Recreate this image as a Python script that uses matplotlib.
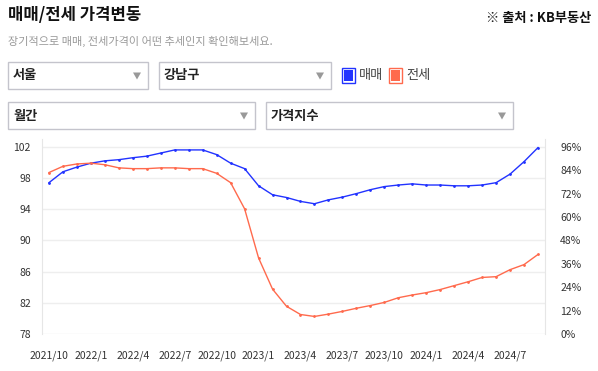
import matplotlib
matplotlib.use('Agg')
import matplotlib.pyplot as plt
from matplotlib.patches import Rectangle, Polygon

plt.rcParams['font.family'] = ['Noto Sans CJK KR', 'DejaVu Sans']

# monthly data, 2021/10 .. 2024/9
months = ['2021/10', '2021/11', '2021/12',
          '2022/1', '2022/2', '2022/3', '2022/4', '2022/5', '2022/6',
          '2022/7', '2022/8', '2022/9', '2022/10', '2022/11', '2022/12',
          '2023/1', '2023/2', '2023/3', '2023/4', '2023/5', '2023/6',
          '2023/7', '2023/8', '2023/9', '2023/10', '2023/11', '2023/12',
          '2024/1', '2024/2', '2024/3', '2024/4', '2024/5', '2024/6',
          '2024/7', '2024/8', '2024/9']
sale = [97.4, 98.8, 99.4,
        99.9, 100.2, 100.35, 100.6, 100.8, 101.2,
        101.6, 101.6, 101.6, 101.0, 99.9, 99.2,
        97.0, 95.85, 95.5, 95.0, 94.7, 95.2,
        95.55, 96.0, 96.5, 96.9, 97.1, 97.25,
        97.1, 97.1, 97.0, 97.0, 97.1, 97.4,
        98.5, 100.1, 101.9]
jeonse = [98.7, 99.5, 99.8,
          99.9, 99.7, 99.3, 99.2, 99.2, 99.3,
          99.3, 99.2, 99.2, 98.6, 97.4, 94.05,
          87.75, 83.75, 81.55, 80.5, 80.25, 80.55,
          80.9, 81.3, 81.65, 82.05, 82.65, 83.0,
          83.3, 83.7, 84.2, 84.7, 85.25, 85.35,
          86.25, 86.9, 88.2]
left_ticks = [78, 82, 86, 90, 94, 98, 102]
right_ticks = [0, 12, 24, 36, 48, 60, 72, 84, 96]

BLUE = '#2233ff'
RED = '#ff6a4d'
W, H = 598, 371

fig = plt.figure(figsize=(W / 100, H / 100), dpi=100)


def fx(x):
    return x / W


def fy(y):
    return 1 - y / H


# header
fig.text(fx(8), fy(15), '매매/전세 가격변동', fontsize=12, fontweight='bold',
         color='#111111', va='center', ha='left')
fig.text(fx(591), fy(18), '※ 출처 : KB부동산', fontsize=9.5, fontweight='bold',
         color='#111111', va='center', ha='right')
fig.text(fx(8), fy(41), '장기적으로 매매, 전세가격이 어떤 추세인지 확인해보세요.',
         fontsize=8, color='#999999', va='center', ha='left')

# dropdown boxes
boxes = [(8, 62, 148, 89, '서울'), (159, 62, 331, 89, '강남구'),
         (8, 102, 255, 129, '월간'), (266, 102, 513, 129, '가격지수')]
for x0, y0, x1, y1, label in boxes:
    fig.patches.append(Rectangle((fx(x0), fy(y1)), fx(x1 - x0), (y1 - y0) / H,
                                 transform=fig.transFigure, facecolor='white',
                                 edgecolor='#c4c4cc', lw=1))
    fig.text(fx(x0 + 5), fy((y0 + y1) / 2), label, fontsize=9.5, fontweight='bold',
             color='#222222', va='center', ha='left')
    tx = x1 - 11
    ty = (y0 + y1) / 2
    fig.patches.append(Polygon([(fx(tx - 4), fy(ty - 3)), (fx(tx + 4), fy(ty - 3)),
                                (fx(tx), fy(ty + 4))], closed=True,
                               transform=fig.transFigure, facecolor='#999999',
                               edgecolor='none'))

# legend squares
for x0, col, label in [(342, BLUE, '매매'), (389, RED, '전세')]:
    fig.patches.append(Rectangle((fx(x0), fy(83)), fx(13), 15 / H,
                                 transform=fig.transFigure, facecolor='white',
                                 edgecolor=col, lw=1))
    fig.patches.append(Rectangle((fx(x0 + 2), fy(81)), fx(9), 11 / H,
                                 transform=fig.transFigure, facecolor=col,
                                 edgecolor='none'))
    fig.text(fx(x0 + 17), fy(75.5), label, fontsize=9.5, color='#444444',
             va='center', ha='left')

# chart
ax = fig.add_axes([fx(42), fy(334), fx(545 - 42), (334 - 139) / H])
x = list(range(len(months)))
ax.plot(x, sale, color=BLUE, lw=1.0, marker='o', markersize=1.0)
ax.plot(x, jeonse, color=RED, lw=1.0, marker='o', markersize=1.0)
ax.set_xlim(-0.5, len(months) - 0.5)
ax.set_ylim(78, 103)
ax.set_yticks(left_ticks)
ax.set_xticks(x[::3])
ax.set_xticklabels(months[::3])
ax.grid(axis='y', color='#eeeeee', lw=1)
ax.set_axisbelow(True)
for s in ['top', 'bottom']:
    ax.spines[s].set_visible(False)
for s in ['left', 'right']:
    ax.spines[s].set_color('#e6e6e6')
ax.tick_params(axis='both', length=0, labelsize=7.5, labelcolor='#333333')
ax.tick_params(axis='x', pad=12)
ax.tick_params(axis='y', pad=8)

ax2 = ax.twinx()
ax2.set_ylim(0, 100)
ax2.set_yticks(right_ticks)
ax2.set_yticklabels(['%d%%' % t for t in right_ticks])
for s in ['top', 'bottom', 'left', 'right']:
    ax2.spines[s].set_visible(False)
ax2.tick_params(axis='y', length=0, labelsize=7.5, labelcolor='#333333', pad=11)

fig.savefig('out.png', dpi=100)
